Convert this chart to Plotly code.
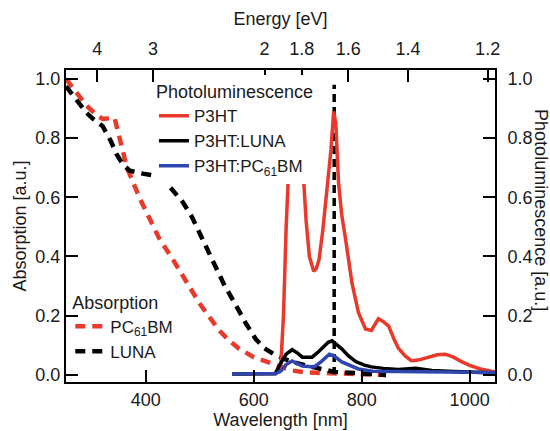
import plotly.graph_objects as go

# ---------------- data ----------------
pcbm_abs_wl = [252, 270, 290, 310, 320, 342, 352, 365, 389, 410, 425, 450, 470, 500, 520, 536,
               555, 573, 600, 623, 647, 670, 700, 750, 800, 845]
pcbm_abs = [1.0, 0.955, 0.91, 0.875, 0.865, 0.868, 0.80, 0.70, 0.595, 0.52, 0.46, 0.39, 0.33, 0.24,
            0.19, 0.15, 0.115, 0.088, 0.06, 0.044, 0.027, 0.015, 0.008, 0.004, 0.003, 0.0]

luna_abs_wl = [252, 270, 290, 302, 320, 335, 346, 358, 370, 394, 420, 435, 450, 468, 485, 499,
               515, 530, 545, 567, 585, 604, 620, 641, 671, 700, 726, 750, 800, 845]
luna_abs = [0.975, 0.93, 0.885, 0.865, 0.84, 0.79, 0.745, 0.71, 0.69, 0.68, 0.672, 0.655, 0.625,
            0.585, 0.535, 0.48, 0.42, 0.36, 0.305, 0.235, 0.175, 0.12, 0.09, 0.065, 0.044, 0.03,
            0.018, 0.01, 0.005, 0.0]

marker_wl = [749, 749]
marker_val = [0.0, 0.98]

p3ht_wl = [560, 600, 640, 650, 655, 660, 665, 670, 678, 685, 691, 697, 703, 711, 716, 721, 728,
           734, 743, 748, 752, 757, 763, 770, 782, 794, 807, 818, 831, 840, 850, 860, 868, 880,
           892, 905, 923, 940, 955, 970, 985, 1000, 1020, 1047]
p3ht_pl = [0.003, 0.003, 0.005, 0.03, 0.2, 0.5, 0.75, 0.92, 1.0, 0.9, 0.7, 0.52, 0.4, 0.35, 0.36,
           0.39, 0.49, 0.59, 0.76, 0.89, 0.85, 0.65, 0.54, 0.46, 0.31, 0.21, 0.155, 0.15, 0.19,
           0.18, 0.165, 0.12, 0.09, 0.065, 0.048, 0.05, 0.06, 0.068, 0.07, 0.06, 0.045, 0.032,
           0.02, 0.01]

luna_pl_wl = [560, 640, 650, 660, 671, 680, 690, 708, 718, 726, 738, 745, 752, 763, 775, 789, 805,
              818, 840, 868, 900, 930, 960, 1000, 1047]
luna_pl = [0.003, 0.005, 0.04, 0.07, 0.085, 0.075, 0.06, 0.06, 0.075, 0.09, 0.11, 0.115, 0.105,
           0.088, 0.065, 0.045, 0.033, 0.027, 0.022, 0.018, 0.022, 0.015, 0.012, 0.01, 0.006]

pcbm_pl_wl = [560, 640, 650, 660, 671, 680, 690, 712, 725, 740, 748, 763, 780, 794, 820, 900,
              1000, 1047]
pcbm_pl = [0.003, 0.004, 0.013, 0.035, 0.047, 0.04, 0.03, 0.027, 0.045, 0.07, 0.065, 0.044, 0.03,
           0.02, 0.012, 0.01, 0.01, 0.008]

wl_ticks = [400, 600, 800, 1000]
energy_ticks = [4, 3, 2, 1.8, 1.6, 1.4, 1.2]
energy_labels = ["4", "3", "2", "1.8", "1.6", "1.4", "1.2"]
y_ticks = [0.0, 0.2, 0.4, 0.6, 0.8, 1.0]
y_labels = ["0.0", "0.2", "0.4", "0.6", "0.8", "1.0"]

# ---------------- styles ----------------
RED = "#e8392a"
BLACK = "#000000"
BLUE = "#2f45b0"
TXT = "#1a1a1a"
FONT = "Liberation Sans, Arial, sans-serif"
FS = 18
LFS = 17
DASH = "10px,7px"
X_RANGE = [252, 1047]
Y_RANGE = [-0.024, 1.03]

fig = go.Figure()

fig.add_trace(go.Scatter(x=marker_wl, y=marker_val, mode="lines", showlegend=False,
                         line=dict(color=BLACK, width=3.5, dash="8px,5px")))
fig.add_trace(go.Scatter(x=pcbm_abs_wl, y=pcbm_abs, mode="lines", name="PC<sub>61</sub>BM",
                         legend="legend2", line=dict(color=RED, width=4.5, dash=DASH)))
fig.add_trace(go.Scatter(x=luna_abs_wl, y=luna_abs, mode="lines", name="LUNA",
                         legend="legend2", line=dict(color=BLACK, width=4.5, dash=DASH)))

fig.add_trace(go.Scatter(x=p3ht_wl, y=p3ht_pl, mode="lines", name="P3HT", yaxis="y2",
                         legend="legend", line=dict(color=RED, width=3.5)))
fig.add_trace(go.Scatter(x=luna_pl_wl, y=luna_pl, mode="lines", name="P3HT:LUNA", yaxis="y2",
                         legend="legend", line=dict(color=BLACK, width=3.5)))
fig.add_trace(go.Scatter(x=pcbm_pl_wl, y=pcbm_pl, mode="lines", name="P3HT:PC<sub>61</sub>BM",
                         yaxis="y2", legend="legend", line=dict(color=BLUE, width=3.5)))

# invisible trace to activate the top axis
fig.add_trace(go.Scatter(x=X_RANGE, y=[None, None], xaxis="x2", showlegend=False,
                         hoverinfo="skip"))

axis_common = dict(showline=True, linecolor="black", linewidth=2, ticks="inside", ticklen=12,
                   tickwidth=2, tickcolor="black", showgrid=False, zeroline=False,
                   automargin=False, tickfont=dict(family=FONT, size=FS, color=TXT))

fig.update_layout(
    width=550, height=431,
    margin=dict(l=66, r=55, t=70, b=49),
    paper_bgcolor="white", plot_bgcolor="white",
    font=dict(family=FONT, size=FS, color=TXT),
    xaxis=dict(range=X_RANGE, tickvals=wl_ticks, **axis_common, ticklabelstandoff=0,
               title=dict(text="Wavelength [nm]", standoff=0, font=dict(size=FS))),
    xaxis2=dict(range=X_RANGE, overlaying="x", side="top", anchor="y",
                tickvals=[1240 / e for e in energy_ticks], ticktext=energy_labels,
                **axis_common, ticklabelstandoff=6,
                title=dict(text="Energy [eV]", standoff=8, font=dict(size=FS))),
    yaxis=dict(range=Y_RANGE, tickvals=y_ticks, ticktext=y_labels, **axis_common,
               title=dict(text="Absorption [a.u.]", standoff=4, font=dict(size=FS))),
    yaxis2=dict(range=Y_RANGE, tickvals=y_ticks, ticktext=y_labels, overlaying="y",
                side="right", anchor="x", **axis_common, ticklabelstandoff=7),
    legend=dict(x=0.205, y=0.985, xanchor="left", yanchor="top", bgcolor="white",
                borderwidth=0, font=dict(family=FONT, size=LFS, color=TXT),
                title=dict(text="Photoluminescence", font=dict(family=FONT, size=FS)),
                tracegroupgap=0, itemwidth=30),
    legend2=dict(x=0.01, y=0.31, xanchor="left", yanchor="top", bgcolor="rgba(0,0,0,0)",
                 borderwidth=0, font=dict(family=FONT, size=LFS, color=TXT),
                 title=dict(text="Absorption", font=dict(family=FONT, size=FS)),
                 tracegroupgap=0, itemwidth=30),
    annotations=[dict(text="Photoluminescence [a.u.]", x=1.0, xref="paper", xshift=46,
                      xanchor="center", yanchor="middle",
                      y=0.551, yref="paper", textangle=90, showarrow=False,
                      font=dict(family=FONT, size=FS, color=TXT))],
)

fig.write_html("out.html")
